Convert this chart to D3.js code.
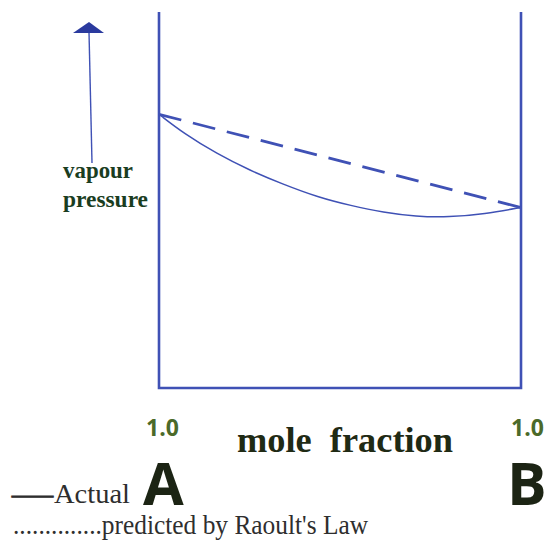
<!DOCTYPE html>
<html>
<head>
<meta charset="utf-8">
<script src="https://cdn.jsdelivr.net/npm/d3@7"></script>
<style>
  html, body { margin: 0; padding: 0; background: #fff; }
  svg { display: block; }
</style>
</head>
<body>
<svg id="chart" width="548" height="541"></svg>
<script>
// Mole fraction of B (0 = pure A, 1 = pure B)
const moleFraction = [0, 0.07, 0.16, 0.25, 0.34, 0.44, 0.53, 0.62, 0.71, 0.80, 0.90, 1.0];
// Measured total vapour pressure (arbitrary units)
const actualPressure = [72.8, 67.6, 62.3, 57.9, 54.3, 50.7, 48.5, 46.7, 45.6, 45.4, 46.3, 48.0];
// Raoult's law prediction: straight line between the pure-component pressures
const raoultFraction = [0, 1];
const raoultPressure = [72.8, 48.0];
const pressureDomain = [0, 100];
const endLabels = ["1.0", "1.0"];
const componentNames = ["A", "B"];

const svg = d3.select("#chart");
const blue = "#3f51b5";
const SERIF = "Liberation Serif";
const SANS = "Open Sans";

const x = d3.scaleLinear().domain([0, 1]).range([159, 521]);
const y = d3.scaleLinear().domain(pressureDomain).range([388, 12]);

// Frame: two pure-component axes joined by the baseline
svg.append("path")
  .attr("d", d3.line()([[x(0), y(100)], [x(0), y(0)], [x(1), y(0)], [x(1), y(100)]]))
  .attr("fill", "none")
  .attr("stroke", blue)
  .attr("stroke-width", 2.6);

// Raoult's law (dashed)
svg.append("path")
  .datum(raoultFraction.map((f, i) => [f, raoultPressure[i]]))
  .attr("d", d3.line().x(d => x(d[0])).y(d => y(d[1])))
  .attr("fill", "none")
  .attr("stroke", blue)
  .attr("stroke-width", 2.8)
  .attr("stroke-dasharray", "23,12");

// Actual vapour pressure (negative deviation)
svg.append("path")
  .datum(moleFraction.map((f, i) => [f, actualPressure[i]]))
  .attr("d", d3.line().x(d => x(d[0])).y(d => y(d[1])).curve(d3.curveBasis))
  .attr("fill", "none")
  .attr("stroke", blue)
  .attr("stroke-width", 1.5);

// Vertical arrow for the pressure direction
svg.append("line")
  .attr("x1", 92).attr("y1", 163)
  .attr("x2", 89).attr("y2", 32)
  .attr("stroke", blue)
  .attr("stroke-width", 1.4);
svg.append("path")
  .attr("d", "M73,33 L89,22 L104,33 Z")
  .attr("fill", "#2a3a9e");

// Y label
[["vapour", 178, 70], ["pressure", 207, 85]].forEach(([t, yy, w]) => {
  svg.append("text")
    .attr("x", 63).attr("y", yy)
    .style("font-family", SERIF)
    .attr("font-weight", "bold")
    .attr("font-size", 24)
    .attr("textLength", w)
    .attr("lengthAdjust", "spacingAndGlyphs")
    .attr("fill", "#1a3d1f")
    .text(t);
});

// End labels
svg.selectAll("text.end")
  .data(endLabels)
  .join("text")
  .attr("class", "end")
  .attr("x", (d, i) => x(i) + (i === 0 ? -13 : -10))
  .attr("y", 436)
  .style("font-family", SANS)
  .attr("font-weight", "bold")
  .attr("font-size", 23)
  .attr("fill", "#4b6a2a")
  .text(d => d);

svg.selectAll("text.comp")
  .data(componentNames)
  .join("text")
  .attr("class", "comp")
  .attr("x", (d, i) => x(i) + (i === 0 ? -16 : -14))
  .attr("y", 505)
  .style("font-family", SANS)
  .attr("font-weight", "bold")
  .attr("font-size", 59)
  .attr("fill", "#1c2414")
  .text(d => d);

// X label
svg.append("text")
  .attr("x", 237).attr("y", 452)
  .style("font-family", SERIF)
  .style("white-space", "pre")
  .attr("font-weight", "bold")
  .attr("font-size", 36)
  .attr("textLength", 216)
  .attr("lengthAdjust", "spacingAndGlyphs")
  .attr("fill", "#1f2a14")
  .text("mole  fraction");

// Legend
svg.append("text")
  .attr("x", 12).attr("y", 503)
  .style("font-family", SERIF)
  .attr("font-size", 27)
  .attr("textLength", 41)
  .attr("lengthAdjust", "spacingAndGlyphs")
  .attr("fill", "#2e2e2e")
  .attr("stroke", "#2e2e2e")
  .attr("stroke-width", 0.7)
  .text("\u2014");
svg.append("text")
  .attr("x", 54).attr("y", 503)
  .style("font-family", SERIF)
  .attr("font-size", 27)
  .attr("textLength", 76)
  .attr("lengthAdjust", "spacingAndGlyphs")
  .attr("fill", "#2e2e2e")
  .text("Actual");
svg.append("text")
  .attr("x", 13).attr("y", 534)
  .style("font-family", SERIF)
  .attr("font-size", 27)
  .attr("textLength", 355)
  .attr("lengthAdjust", "spacingAndGlyphs")
  .attr("fill", "#2e2e2e")
  .text("..............predicted by Raoult's Law");
</script>
</body>
</html>
